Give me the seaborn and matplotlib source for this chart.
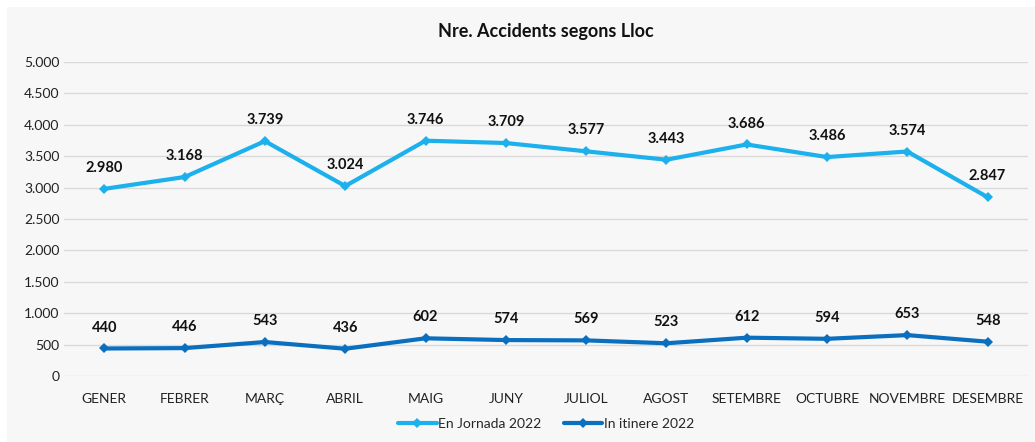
import pandas as pd
import matplotlib.pyplot as plt
import seaborn as sns
from matplotlib.patches import Rectangle

months = ["GENER", "FEBRER", "MARÇ", "ABRIL", "MAIG", "JUNY", "JULIOL",
          "AGOST", "SETEMBRE", "OCTUBRE", "NOVEMBRE", "DESEMBRE"]
jornada = [2980, 3168, 3739, 3024, 3746, 3709, 3577, 3443, 3686, 3486, 3574, 2847]
itinere = [440, 446, 543, 436, 602, 574, 569, 523, 612, 594, 653, 548]
series_names = ["En Jornada 2022", "In itinere 2022"]
colors = ["#1cb0ec", "#0b6fbf"]
yticks = list(range(0, 5001, 500))


def fmt(v):
    return f"{v:,}".replace(",", ".")


df = pd.concat([
    pd.DataFrame({"mes": months, "valor": jornada, "serie": series_names[0]}),
    pd.DataFrame({"mes": months, "valor": itinere, "serie": series_names[1]}),
])

sns.set_style("white")
plt.rcParams["font.family"] = ["Lato", "DejaVu Sans"]

fig = plt.figure(figsize=(10.35, 4.42), dpi=100)
fig.patch.set_facecolor("white")
fig.patches.append(Rectangle((7 / 1035, 0), 1 - 7 / 1035, 1 - 7 / 442,
                             transform=fig.transFigure, facecolor="#f7f7f7",
                             edgecolor="none", zorder=-10))
ax = fig.add_axes([0.062, 0.149, 0.931, 0.711])
ax.set_facecolor("none")

sns.lineplot(data=df, x="mes", y="valor", hue="serie", palette=colors,
             marker="D", markersize=5, markeredgewidth=0, linewidth=3,
             sort=False, ax=ax)

for vals in (jornada, itinere):
    for i, v in enumerate(vals):
        ax.annotate(fmt(v), (i, v), xytext=(0, 10), textcoords="offset points",
                    ha="center", va="bottom", fontsize=10.5, fontweight="bold",
                    color="#111111")

ax.set_xlim(-0.5, 11.5)
ax.set_ylim(0, 5000)
ax.set_yticks(yticks)
ax.set_yticklabels([fmt(v) for v in yticks])
ax.tick_params(axis="both", length=0, labelsize=10, colors="#222222")
ax.tick_params(axis="x", pad=12)
ax.grid(axis="y", color="#d9d9d9", linewidth=1)
ax.set_axisbelow(True)
for s in ax.spines.values():
    s.set_visible(False)
ax.set_xlabel("")
ax.set_ylabel("")

ax.set_title("Nre. Accidents segons Lloc", fontsize=13, fontweight="bold",
             color="#111111", pad=18)

leg = ax.legend(loc="center", bbox_to_anchor=(0.5, -0.153), ncol=2,
                frameon=False, fontsize=10, handlelength=2.8,
                handletextpad=0.1, columnspacing=1.6)
for h in leg.legend_handles:
    h.set_linewidth(3)

fig.savefig("out.png", dpi=100, facecolor=fig.get_facecolor())
